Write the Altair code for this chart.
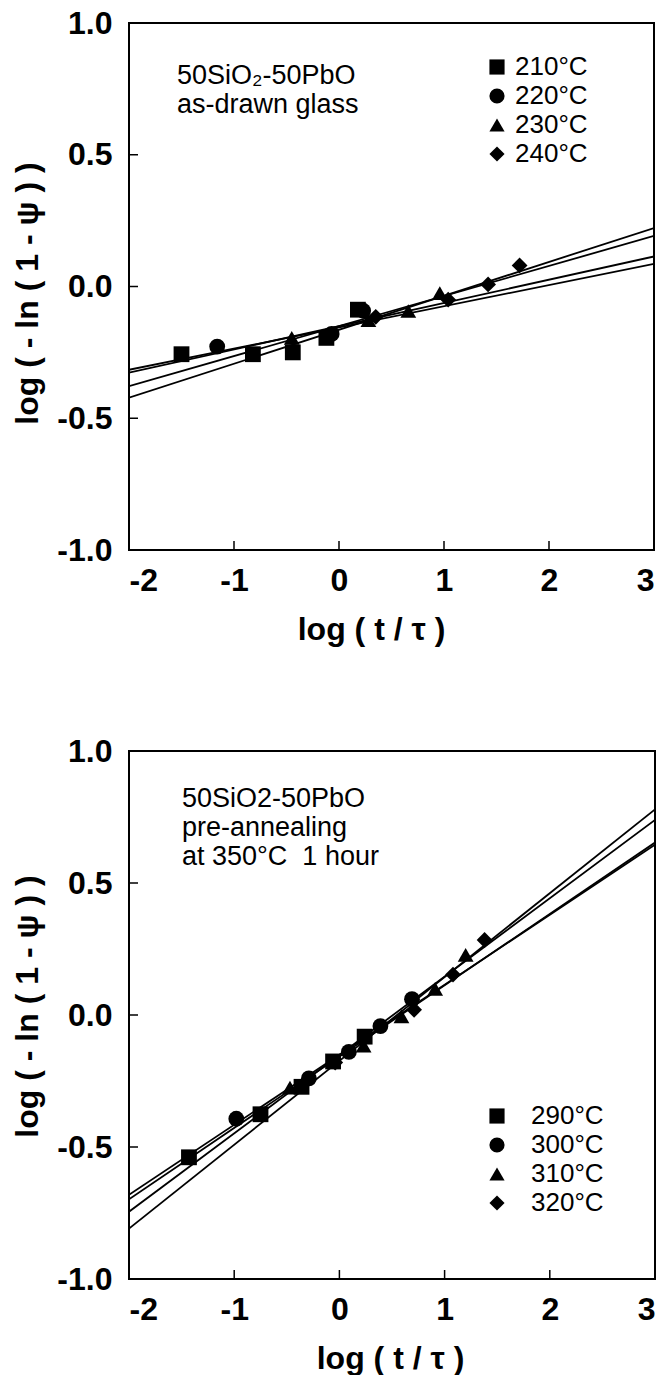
import altair as alt
import pandas as pd

FONT = "Liberation Sans"

# ---------------- data: top panel (as-drawn glass) ----------------
top_series = ["210°C", "220°C", "230°C", "240°C"]
top_x = [
    [-1.50, -0.82, -0.44, -0.12, 0.18],
    [-1.16, -0.07, 0.23],
    [-0.45, 0.28, 0.66, 0.96],
    [0.35, 1.04, 1.42, 1.72],
]
top_y = [
    [-0.257, -0.257, -0.250, -0.195, -0.088],
    [-0.228, -0.180, -0.092],
    [-0.195, -0.128, -0.093, -0.025],
    [-0.115, -0.050, 0.008, 0.080],
]
top_fit_left = [-0.316, -0.327, -0.378, -0.422]   # value at log(t/tau) = -2
top_fit_right = [0.086, 0.114, 0.192, 0.222]      # value at log(t/tau) = 3
top_note = ["50SiO\u2082-50PbO", "as-drawn glass"]

# ---------------- data: bottom panel (pre-annealed) ----------------
bot_series = ["290°C", "300°C", "310°C", "320°C"]
bot_x = [
    [-1.43, -0.75, -0.36, -0.06, 0.24],
    [-0.98, -0.29, 0.09, 0.39, 0.69],
    [-0.47, 0.23, 0.59, 0.91, 1.20],
    [-0.04, 0.71, 1.08, 1.38],
]
bot_y = [
    [-0.539, -0.376, -0.272, -0.176, -0.082],
    [-0.393, -0.240, -0.140, -0.042, 0.060],
    [-0.275, -0.116, -0.005, 0.099, 0.228],
    [-0.180, 0.020, 0.153, 0.284],
]
bot_fit_left = [-0.681, -0.698, -0.745, -0.809]
bot_fit_right = [0.645, 0.653, 0.739, 0.779]
bot_note = ["50SiO2-50PbO", "pre-annealing", "at 350°C\u00a0 1 hour"]

x_domain = [-2, 3]
y_domain = [-1, 1]
x_ticks = [-2, -1, 0, 1, 2, 3]
y_ticks = [-1.0, -0.5, 0.0, 0.5, 1.0]
shapes = ["square", "circle", "triangle-up", "diamond"]

x_title = "log ( t / \u03c4 )"
y_title = "log ( - ln ( 1 - \u03c8 ) )"


def panel(series, xs, ys, fit_l, fit_r, note, note_pos, leg_pos, leg_off,
          w, h, xtitle_x, ytitle_y):
    pts = pd.DataFrame(
        [{"T": s, "x": xv, "y": yv}
         for s, xl, yl in zip(series, xs, ys) for xv, yv in zip(xl, yl)]
    )
    fits = pd.DataFrame(
        [{"id": i, "x": xv, "y": yv}
         for i, (a, b) in enumerate(zip(fit_l, fit_r))
         for xv, yv in ((x_domain[0], a), (x_domain[1], b))]
    )
    xs_scale = alt.Scale(domain=x_domain, nice=False, zero=False)
    ys_scale = alt.Scale(domain=y_domain, nice=False, zero=False)

    xaxis = alt.Axis(
        values=x_ticks, ticks=False, domain=False, grid=False,
        labelExpr="replace(format(datum.value, 'd'), '\u2212', '-')",
        labelFont=FONT, labelFontSize=32, labelFontWeight="bold",
        labelColor="black", labelPadding=15,
        title=x_title, titleFont=FONT, titleFontSize=32, titleFontWeight="bold",
        titleColor="black", titlePadding=18, titleX=xtitle_x,
    )
    yaxis = alt.Axis(
        values=y_ticks, ticks=False, domain=False, grid=False,
        labelExpr="replace(format(datum.value, '.1f'), '\u2212', '-')",
        labelFont=FONT, labelFontSize=32, labelFontWeight="bold",
        labelColor="black", labelPadding=17,
        title=y_title, titleFont=FONT, titleFontSize=32, titleFontWeight="bold",
        titleColor="black", titlePadding=12, titleY=ytitle_y,
    )

    lines = alt.Chart(fits).mark_line(color="black", strokeWidth=1.8, clip=True).encode(
        x=alt.X("x:Q", scale=xs_scale, axis=xaxis),
        y=alt.Y("y:Q", scale=ys_scale, axis=yaxis),
        detail="id:N",
    )
    points = alt.Chart(pts).mark_point(
        filled=True, color="black", opacity=1, size=250
    ).encode(
        x=alt.X("x:Q", scale=xs_scale),
        y=alt.Y("y:Q", scale=ys_scale),
        shape=alt.Shape(
            "T:N",
            scale=alt.Scale(domain=series, range=shapes),
            legend=alt.Legend(
                orient="none", legendX=leg_pos[0], legendY=leg_pos[1],
                title=None, padding=0,
                labelFont=FONT, labelFontSize=26, labelColor="black",
                labelOffset=leg_off, rowPadding=3,
                symbolSize=230, symbolFillColor="black",
                symbolStrokeColor="black", symbolStrokeWidth=0,
                symbolOpacity=1,
            ),
        ),
    )
    yt = alt.Chart(pd.DataFrame({"v": y_ticks})).mark_rule(
        color="black", strokeWidth=1.5
    ).encode(y=alt.Y("v:Q", scale=ys_scale), x=alt.value(0), x2=alt.value(9))
    xt = alt.Chart(pd.DataFrame({"v": x_ticks})).mark_rule(
        color="black", strokeWidth=1.5
    ).encode(x=alt.X("v:Q", scale=xs_scale), y=alt.value(h), y2=alt.value(h - 9))
    text = alt.Chart(pd.DataFrame({"a": [0]})).mark_text(
        text=note, align="left", baseline="top", lineHeight=29,
        font=FONT, fontSize=27, color="black",
    ).encode(x=alt.value(note_pos[0]), y=alt.value(note_pos[1]))

    return alt.layer(lines, xt, yt, points, text).properties(width=w, height=h)


top = panel(top_series, top_x, top_y, top_fit_left, top_fit_right, top_note,
            (48, 40), (355, 31), 5, 525, 527, 242, 270)
bottom = panel(bot_series, bot_x, bot_y, bot_fit_left, bot_fit_right, bot_note,
               (53, 35), (355, 352), 21, 526, 528, 261, 255)

chart = (
    alt.vconcat(top, bottom, spacing=88)
    .resolve_scale(shape="independent")
    .resolve_legend(shape="independent")
    .configure_view(stroke="black", strokeWidth=2)
    .properties(padding={"left": 10, "top": 6, "right": 0, "bottom": 0},
                background="white")
)

chart.save("out.html", embed_options={"renderer": "svg", "actions": False})
